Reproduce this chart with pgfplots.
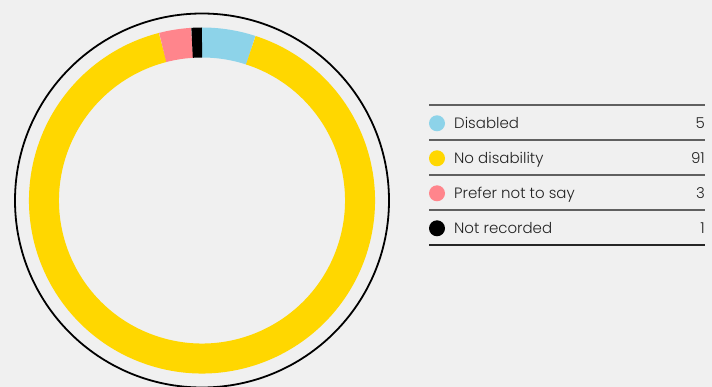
\documentclass[border=0pt]{standalone}
\usepackage{pgfplots}
\pgfplotsset{compat=1.18}
\usepackage{pgfplotstable}
\usepackage{fontspec}
\setmainfont{Poppins}[UprightFont={* Light}]
\definecolor{bg}{HTML}{F0F0F0}
\definecolor{cDis}{HTML}{8DD3E9}
\definecolor{cNo}{HTML}{FFD700}
\definecolor{cPref}{HTML}{FF858C}
\definecolor{cNot}{HTML}{000000}
\definecolor{txt}{HTML}{222222}
\definecolor{rule}{HTML}{606060}

\pgfplotstableread[col sep=comma]{
label,value,color
Disabled,5,cDis
No disability,91,cNo
Prefer not to say,3,cPref
Not recorded,1,cNot
}\data

\begin{document}
\begin{tikzpicture}
\fill[bg] (0,0) rectangle (712bp,387bp);
\useasboundingbox (0,0) rectangle (712bp,387bp);
% build donut segments from the table
\gdef\cum{0}
\gdef\segs{}
\pgfplotsforeachungrouped \i in {0,...,3}{%
  \pgfplotstablegetelem{\i}{value}\of\data \let\vv\pgfplotsretval
  \pgfplotstablegetelem{\i}{color}\of\data \let\cc\pgfplotsretval
  \pgfmathsetmacro\aS{90-3.6*\cum}%
  \pgfmathsetmacro\cumn{\cum+\vv}%
  \xdef\cum{\cumn}%
  \pgfmathsetmacro\aE{90-3.6*\cum}%
  \xdef\segs{\unexpanded\expandafter{\segs}\noexpand\draw[line width=30bp,\cc] (axis cs:0,0) ++(\aS:158bp) arc[start angle=\aS,end angle=\aE,radius=158bp];}%
}
\begin{axis}[
  at={(202bp,186.5bp)}, anchor=origin,
  x=1bp, y=1bp, scale only axis,
  xmin=-190, xmax=190, ymin=-186, ymax=190,
  hide axis, clip=false]
  \segs
  \draw[line width=1.8bp,black] (axis cs:0,0) circle[radius=187bp];
\end{axis}
% legend table
\draw[line width=1.2bp,rule] (429bp,282bp) -- (705bp,282bp);
\draw[line width=1.2bp,rule] (429bp,247bp) -- (705bp,247bp);
\draw[line width=1.2bp,rule] (429bp,212bp) -- (705bp,212bp);
\draw[line width=1.2bp,rule] (429bp,177bp) -- (705bp,177bp);
\draw[line width=1.2bp,black!85] (429bp,142bp) -- (705bp,142bp);
\pgfplotsforeachungrouped \i in {0,...,3}{%
  \pgfplotstablegetelem{\i}{label}\of\data \let\lab\pgfplotsretval
  \pgfplotstablegetelem{\i}{value}\of\data \let\vv\pgfplotsretval
  \pgfplotstablegetelem{\i}{color}\of\data \let\cc\pgfplotsretval
  \pgfmathsetmacro\yc{263.7-35*\i}%
  \pgfmathsetmacro\yb{258.5-35*\i}%
  \fill[\cc] (437bp,\yc bp) circle[radius=8bp];
  \node[anchor=base west,inner sep=0pt,text=txt,font=\fontsize{15bp}{18bp}\selectfont] at (454bp,\yb bp) {\lab};
  \node[anchor=base east,inner sep=0pt,text=txt,font=\fontsize{15bp}{18bp}\selectfont] at (705bp,\yb bp) {\vv};
}
\end{tikzpicture}
\end{document}
